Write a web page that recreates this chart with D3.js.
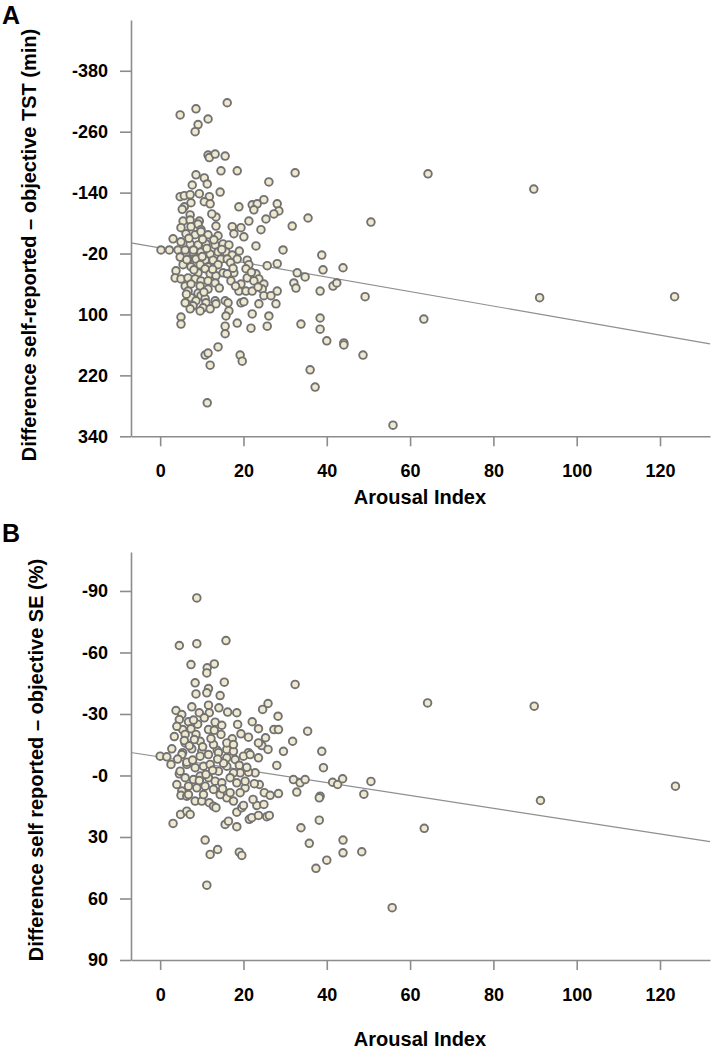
<!DOCTYPE html>
<html><head><meta charset="utf-8">
<script src="https://cdn.jsdelivr.net/npm/d3@7"></script>
<style>
body{margin:0;background:#fff}
svg text{font-family:"Liberation Sans",Arial,sans-serif;font-weight:bold;fill:#000}
</style>
</head><body><svg id="c" width="714" height="1049"></svg>
<script>
// ---- Panel A data: Arousal Index vs difference self-reported - objective TST (min)
const arousalA=[4.8,8.6,16.1,9.1,11.5,8.4,11.5,11.8,13.2,15.6,14.6,18.5,32.4,8.6,10.6,7.7,11.3,26.1,14.4,9.4,64.3,89.7,50.6,
4.8,5.8,7.2,11.8,7.4,10.6,12.0,5.8,18.9,22.1,23.3,24.9,28.1,22.5,28.5,27.3,25.4,21.3,35.5,31.7,13.4,7.2,5.5,7.2,9.4,9.1,13.4,5.0,7.4,9.8,19.4,17.3,24.2,17.7,
3.1,6.2,8.4,9.8,11.5,13.9,20.1,5.0,7.2,9.1,11.0,13.2,15.1,16.5,23.0,0.2,2.2,4.3,6.0,7.9,9.8,12.0,13.9,15.8,17.3,29.5,38.8,4.8,6.7,8.6,10.8,12.7,14.6,16.1,18.5,20.9,
5.5,7.4,9.6,11.5,13.9,21.3,25.7,28.1,3.8,9.1,10.8,12.0,13.4,15.1,17.7,20.6,20.9,23.0,23.7,16.1,
3.6,5.0,6.7,8.4,9.8,11.5,13.2,6.0,7.4,9.6,11.5,6.7,9.1,7.4,9.8,17.0,19.4,22.5,24.9,18.9,20.6,22.1,24.5,24.9,26.6,28.1,32.1,32.6,32.9,34.8,39.1,43.9,38.4,41.5,42.4,23.5,
8.6,10.8,11.0,13.2,13.4,10.3,12.0,7.9,7.2,6.0,9.6,15.6,16.3,16.5,15.8,19.4,20.1,23.7,27.8,22.1,26.1,18.5,21.8,25.7,33.8,5.0,5.0,15.6,15.6,38.4,38.4,40.0,44.1,44.1,49.2,63.3,91.1,123.5,48.7,
10.8,11.5,13.9,12.0,19.2,19.7,11.3,36.0,37.2,55.9,
6.9,10.2,12.9,8.0,11.2,14.8,6.4,10.1,16.9,19.0,8.1,12.6,17.5,21.9,6.3,10.5,14.2,18.1,12.4,5.3];
const tstDiff=[-293,-305,-317,-274,-285,-260,-214,-209,-216,-212,-183,-183,-179,-175,-169,-155,-157,-161,-141,-138,-177,-147,-82,
-132,-134,-136,-132,-120,-122,-118,-112,-112,-116,-118,-126,-118,-106,-104,-98,-88,-84,-90,-74,-92,-96,-84,-86,-84,-78,-74,-71,-73,-67,-71,-73,-67,-59,
-49,-59,-57,-63,-57,-55,-53,-43,-39,-37,-39,-37,-39,-37,-35,-27,-27,-27,-27,-23,-23,-19,-23,-23,-17,-27,-17,-13,-9,-9,-7,-7,-9,-9,-9,-7,
2,6,2,6,2,2,4,0,14,18,10,20,24,18,18,10,28,20,30,20,
28,30,28,30,34,34,38,44,40,44,50,54,58,67,63,34,40,34,40,54,54,54,50,63,63,54,38,48,18,26,12,8,54,44,38,46,
73,69,77,73,79,87,89,83,89,77,93,73,77,93,103,77,75,79,79,99,103,117,127,123,119,105,119,123,138,107,129,152,156,160,65,109,67,65,180,
180,176,164,200,180,192,274,209,243,318,
-50,-48,-47,-27,-30,-28,-8,-14,-2,-25,12,11,9,17,60,56,48,44,-98,-107];

// ---- Panel B data: Arousal Index vs difference self reported - objective SE (%)
const arousalB=[8.8,4.6,8.8,15.8,7.4,13.0,11.3,11.2,8.4,15.4,32.4,11.6,11.2,8.6,14.4,7.6,11.6,14.1,3.8,9.4,11.8,16.2,18.4,25.9,24.6,28.3,
5.2,4.6,6.8,10.6,13.2,22.1,18.6,23.6,27.3,28.4,35.4,5.4,7.4,6.0,8.6,11.6,17.3,19.4,21.2,25.3,31.8,24.4,25.9,29.6,38.8,2.8,0,1.6,5.4,7.6,10.0,13.7,16.0,17.6,21.2,
2.6,4.6,4.0,5.2,5.0,6.4,8.4,10.0,11.8,12.8,13.4,4.9,6.4,7.2,3.1,15.6,16.4,18.4,21.4,22.0,23.6,25.6,26.2,18.4,19.6,20.0,23.2,24.9,16.0,17.6,22.3,25.0,26.4,28.4,23.8,20.4,20.4,22.8,21.2,19.2,28.0,
32.0,32.8,33.6,34.8,33.8,35.8,38.4,38.2,38.2,39.2,41.4,42.6,43.8,43.9,43.9,40.0,37.4,10.8,12.0,13.8,19.0,19.6,11.2,48.4,64.2,89.8,50.6,48.9,123.7,91.3,63.4,55.7,
6.0,9.6,12.8,16.0,17.6,23.6,5.2,9.6,11.6,14.0,16.0,18.0,20.0,21.6,23.6,4.8,6.4,8.4,10.4,12.0,14.0,16.0,17.6,6.0,8.0,9.6,11.6,13.2,14.8,16.8,18.4,6.8,8.8,10.8,12.8,6.8,10.4,14.4,16.8,19.2,
3.4,5.8,7.0,8.2,10.2,12.2,14.6,4.2,6.4,9.0,13.0,15.2,19.0,7.8,11.0,13.8,9.4,12.6,15.0,20.8,22.6,8.0,4.0,14.8];
const seDiff=[-86.6,-63.4,-64.3,-65.8,-54.1,-54.4,-52.5,-50.0,-45.2,-45.5,-44.4,-42.4,-40.3,-39.8,-39.0,-33.5,-34.3,-33.0,-31.7,-30.6,-30.6,-30.9,-30.6,-35.1,-32.2,-28.9,
-29.7,-27.3,-26.2,-28.1,-26.0,-26.2,-24.9,-22.8,-22.4,-22.4,-21.6,-22.4,-22.8,-20.0,-20.0,-22.4,-17.9,-20.3,-18.7,-18.4,-16.7,-14.6,-12.7,-11.8,-11.8,-13.0,-9.4,-9.1,-11.1,-13.0,-11.8,-12.3,-12.7,-11.8,-11.1,
-5.4,-0.8,4.4,7.6,9.7,10.1,12.5,12.5,13.3,15.0,15.7,19.0,17.4,19.0,23.4,23.9,22.3,25.0,21.4,20.6,19.5,20.1,19.5,17.9,15.7,14.6,14.6,14.1,10.9,12.5,11.7,8.4,9.7,8.8,4.4,6.0,2.8,-1.3,-1.6,-1.3,-4.9,
2.0,8.1,3.6,2.0,25.5,33.1,10.1,10.9,21.8,-3.8,3.3,4.4,1.6,31.5,37.7,41.3,45.3,31.5,38.5,36.1,37.4,39.0,53.5,37.2,-35.4,-33.8,2.9,9.1,5.2,12.2,25.8,64.5,
-15.9,-16.7,-15.1,-15.9,-15.1,-15.9,-10.2,-9.4,-10.2,-11.1,-8.6,-7.8,-9.4,-10.2,-8.6,-2.1,-5.4,-3.8,-4.5,-5.4,-2.1,-4.5,-1.3,1.1,2.0,0.3,1.1,2.8,3.6,1.1,3.6,5.2,6.0,5.2,6.8,9.3,9.3,9.3,8.4,8.4,
-19.0,-17.0,-14.5,-17.5,-14.0,-18.0,-20.0,-8.0,-6.5,-25.0,-22.0,-6.0,-5.0,-7.5,-0.5,-8.0,2.5,-2.5,6.5,-4.0,4.0,-27.0,-24.0,-24.5];

// ---- ticks and labels
const xTicks=[0,20,40,60,80,100,120];
const yTicksA=[-380,-260,-140,-20,100,220,340];
const yTickLabelsA=["-380","-260","-140","-20","100","220","340"];
const yTicksB=[-90,-60,-30,0,30,60,90];
const yTickLabelsB=["-90","-60","-30","-0","30","60","90"];
// ---- linear fit lines (end points)
const fitX=[-7,132];
const fitA=[-41,158];
const fitB=[-11.2,32.3];

const svg=d3.select("#c");
svg.append("rect").attr("width",714).attr("height",1049).attr("fill","#fff");

const panels=[
 {letter:"A",letterY:24,xs:arousalA,ys:tstDiff,fit:fitA,yDom:[-480,340],top:20,bottom:436.3,
  yTicks:yTicksA,yLabels:yTickLabelsA,yTitle:"Difference self-reported \u2013 objective TST (min)",yTitleX:36,yTitleY:245,xTitleY:504},
 {letter:"B",letterY:542,xs:arousalB,ys:seDiff,fit:fitB,yDom:[-109,90],top:552,bottom:960,
  yTicks:yTicksB,yLabels:yTickLabelsB,yTitle:"Difference self reported \u2013 objective SE (%)",yTitleX:43,yTitleY:760,xTitleY:1046}
];

const axisColor="#8c8c8c";
panels.forEach(p=>{
  const x=d3.scaleLinear().domain([-7,132]).range([131,710]);
  const y=d3.scaleLinear().domain(p.yDom).range([p.top,p.bottom]);
  const g=svg.append("g");

  const ya=g.append("g").attr("transform","translate(131,0)")
    .call(d3.axisLeft(y).tickValues(p.yTicks).tickFormat((d,i)=>p.yLabels[i]).tickSize(11).tickSizeOuter(0).tickPadding(12));
  const xa=g.append("g").attr("transform",`translate(0,${p.bottom})`)
    .call(d3.axisBottom(x).tickValues(xTicks).tickFormat(d3.format("d")).tickSize(10).tickSizeOuter(0).tickPadding(18));
  [ya,xa].forEach(a=>{
    a.select(".domain").attr("stroke",axisColor).attr("stroke-width",1.6);
    a.selectAll(".tick line").attr("stroke",axisColor).attr("stroke-width",1.6);
    a.selectAll(".tick text").style("font-size","18px").attr("fill","#000");
  });

  g.append("line")
    .attr("x1",x(fitX[0])).attr("y1",y(p.fit[0]))
    .attr("x2",x(fitX[1])).attr("y2",y(p.fit[1]))
    .attr("stroke","#8f8f8f").attr("stroke-width",1.2);

  g.append("g").selectAll("circle").data(p.xs.map((v,i)=>[v,p.ys[i]])).join("circle")
    .attr("cx",d=>x(d[0])).attr("cy",d=>y(d[1])).attr("r",3.8)
    .attr("fill","#efeacf").attr("stroke","#727272").attr("stroke-width",1.9);

  g.append("text").attr("x",420).attr("y",p.xTitleY).attr("text-anchor","middle")
    .style("font-size","20px").text("Arousal Index");
  g.append("text").attr("transform",`translate(${p.yTitleX},${p.yTitleY}) rotate(-90)`)
    .attr("text-anchor","middle").style("font-size","20px").text(p.yTitle);
  g.append("text").attr("x",2).attr("y",p.letterY).style("font-size","25px").text(p.letter);
});
</script>
</body></html>
